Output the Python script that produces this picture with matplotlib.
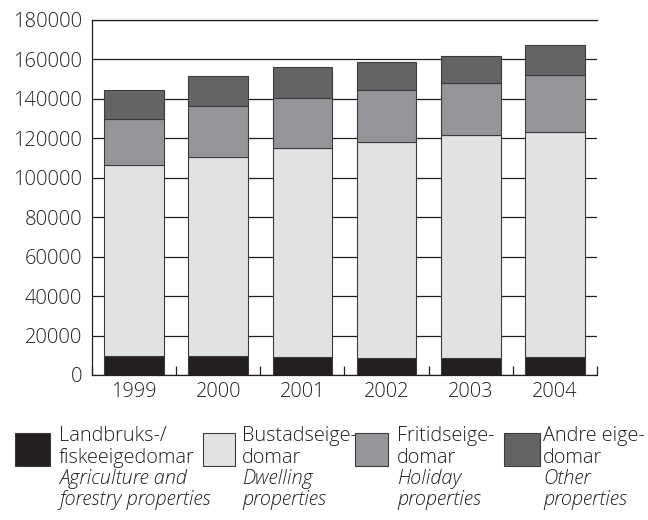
import matplotlib.pyplot as plt
import numpy as np

plt.rcParams['font.family'] = ['Open Sans', 'DejaVu Sans']
plt.rcParams['font.weight'] = 'light'

# Data (number of properties)
years = ['1999', '2000', '2001', '2002', '2003', '2004']
landbruk = [9400, 9700, 9300, 8800, 8600, 9300]
bustad = [96900, 101000, 105600, 109300, 113100, 114100]
fritid = [23300, 25800, 25500, 26200, 26200, 28900]
andre = [14900, 15300, 15900, 14600, 13700, 15200]
y_ticks = [0, 20000, 40000, 60000, 80000, 100000, 120000, 140000, 160000, 180000]

series = [landbruk, bustad, fritid, andre]
colors = ['#231f20', '#e1e2e4', '#939598', '#636466']
legend_lines = [
    ['Landbruks-/', 'fiskeeigedomar', 'Agriculture and', 'forestry properties'],
    ['Bustadseige-', 'domar', 'Dwelling', 'properties'],
    ['Fritidseige-', 'domar', 'Holiday', 'properties'],
    ['Andre eige-', 'domar', 'Other', 'properties'],
]

W, H = 648, 520
fig = plt.figure(figsize=(W / 100, H / 100), dpi=100)
ax = fig.add_axes([92 / W, 1 - 375 / H, (597 - 92) / W, (375 - 20) / H])

x = np.arange(len(years))
bottom = np.zeros(len(years))
for vals, c in zip(series, colors):
    ax.bar(x, vals, width=0.71, bottom=bottom, color=c, edgecolor='#3c3c3c',
           linewidth=0.8, zorder=3)
    bottom += np.array(vals)

ax.set_xlim(-0.5, len(years) - 0.5)
ax.set_ylim(0, 180000)
ax.set_yticks(y_ticks)
ax.set_yticklabels([str(v) for v in y_ticks])
ax.yaxis.grid(True, color='#231f20', linewidth=0.9, zorder=0)
ax.set_axisbelow(True)

ax.set_xticks(x)
ax.set_xticklabels(years)
ax.set_xticks(np.arange(len(years) + 1) - 0.5, minor=True)
ax.tick_params(axis='x', which='major', length=0, pad=5, labelsize=14.3, colors='#231f20')
ax.tick_params(axis='x', which='minor', direction='in', length=6.5, width=0.9, color='#231f20')
ax.tick_params(axis='y', length=0, pad=7, labelsize=14.5, colors='#231f20')

for s in ['left', 'bottom', 'top']:
    ax.spines[s].set_color('#231f20')
    ax.spines[s].set_linewidth(0.9)
ax.spines['right'].set_visible(False)

# legend built by hand below the axes
box_x = [15, 203, 355, 504]
box_w = [35, 32, 33, 36]
text_x = [59, 242, 397, 543]
baselines = [441, 463, 484, 505]
for i in range(4):
    fig.patches.append(plt.Rectangle((box_x[i] / W, 1 - 466 / H), box_w[i] / W, 33 / H,
                                     transform=fig.transFigure, facecolor=colors[i],
                                     edgecolor='#3c3c3c', linewidth=0.8))
    for j, line in enumerate(legend_lines[i]):
        fig.text(text_x[i] / W, 1 - baselines[j] / H, line, fontsize=14.3,
                 style='italic' if j >= 2 else 'normal', color='#231f20',
                 ha='left', va='baseline')

fig.savefig('out.png', dpi=100)
